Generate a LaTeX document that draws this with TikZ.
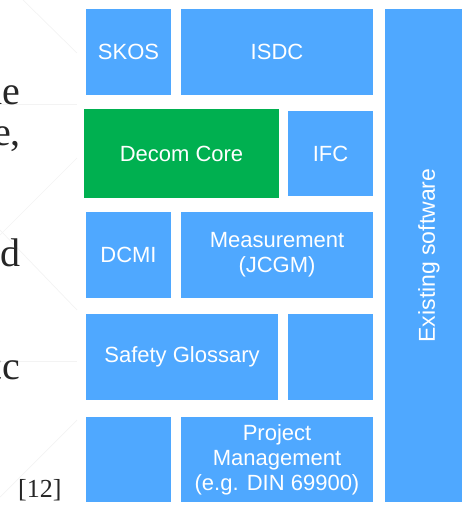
\documentclass[tikz,border=0pt]{standalone}
\usepackage{fontspec}
\setmainfont{Liberation Serif}
\newfontfamily\boxfont{Liberation Sans}
\usetikzlibrary{positioning}
\definecolor{tileblue}{RGB}{79,168,255}
\definecolor{coregreen}{RGB}{0,176,80}
\definecolor{faintgray}{RGB}{243,243,243}

\begin{document}
\begin{tikzpicture}[x=1pt,y=-1pt]
        \tikzstyle{block}=[fill=tileblue,text=white,inner sep=0pt,align=center,
            font=\boxfont\fontsize{22}{25}\selectfont]
        \tikzstyle{slidetext}=[anchor=base east,inner sep=0pt,text=black!85,
            font=\fontsize{40}{40}\selectfont]
        % page frame, also cuts the slide text on the left
        \clip (0,0) rectangle (462,505);
        % faint lines of the slide background
        \draw[faintgray,line width=0.7pt] (23,0) -- (77,53);
        \draw[faintgray,line width=0.7pt] (77,158) -- (0,235);
        \draw[faintgray,line width=0.7pt] (0,230) -- (77,310);
        \draw[faintgray,line width=0.7pt] (77,420) -- (0,497);
        \draw[faintgray,line width=0.7pt] (0,104) -- (77,104);
        \draw[faintgray,line width=0.7pt] (0,361) -- (77,361);
        % slide text, cut at the left border
        \node[slidetext] (t1) at (20,105) {he};
        \node[slidetext] (t2) at (21,146) {e,};
        \node[slidetext] (t3) at (21,266) {nd};
        \node[slidetext] (t4) at (20,379) {tc};
        \node[anchor=base west,inner sep=0pt,text=black!85,
            font=\fontsize{26}{26}\selectfont] (ref) at (18,497) {[12]};
        % row 1
        \node[block,minimum width=85pt,minimum height=86pt] (skos) at (128.5,52) {SKOS};
        \node[block,minimum width=192pt,minimum height=86pt] (isdc) at (277,52) {ISDC};
        % row 2
        \node[block,fill=coregreen,minimum width=195pt,minimum height=89pt] (core) at (181.5,153.5) {Decom Core};
        \node[block,minimum width=85pt,minimum height=85pt] (ifc) at (330.5,153.5) {IFC};
        % row 3
        \node[block,minimum width=85pt,minimum height=86pt] (dcmi) at (128.5,255) {DCMI};
        \node[block,minimum width=192pt,minimum height=86pt] (meas) at (277,255) {Measurement\\(JCGM)};
        % row 4
        \node[block,minimum width=192pt,minimum height=86pt] (safety) at (182,357) {Safety Glossary};
        \node[block,minimum width=85pt,minimum height=86pt] (emptyA) at (330.5,357) {};
        % row 5
        \node[block,minimum width=85pt,minimum height=85pt] (emptyB) at (128.5,459.5) {};
        \node[block,minimum width=192pt,minimum height=85pt] (pm) at (277,459.5) {Project\\Management\\(e.g. DIN 69900)};
        % column on the right
        \node[block,minimum width=80pt,minimum height=493pt] (exist) at (425,255.5) {};
        \node[text=white,inner sep=0pt,rotate=90,font=\boxfont\fontsize{23}{25}\selectfont]
            (existlabel) at (429,255.5) {Existing software};
\end{tikzpicture}
\end{document}
